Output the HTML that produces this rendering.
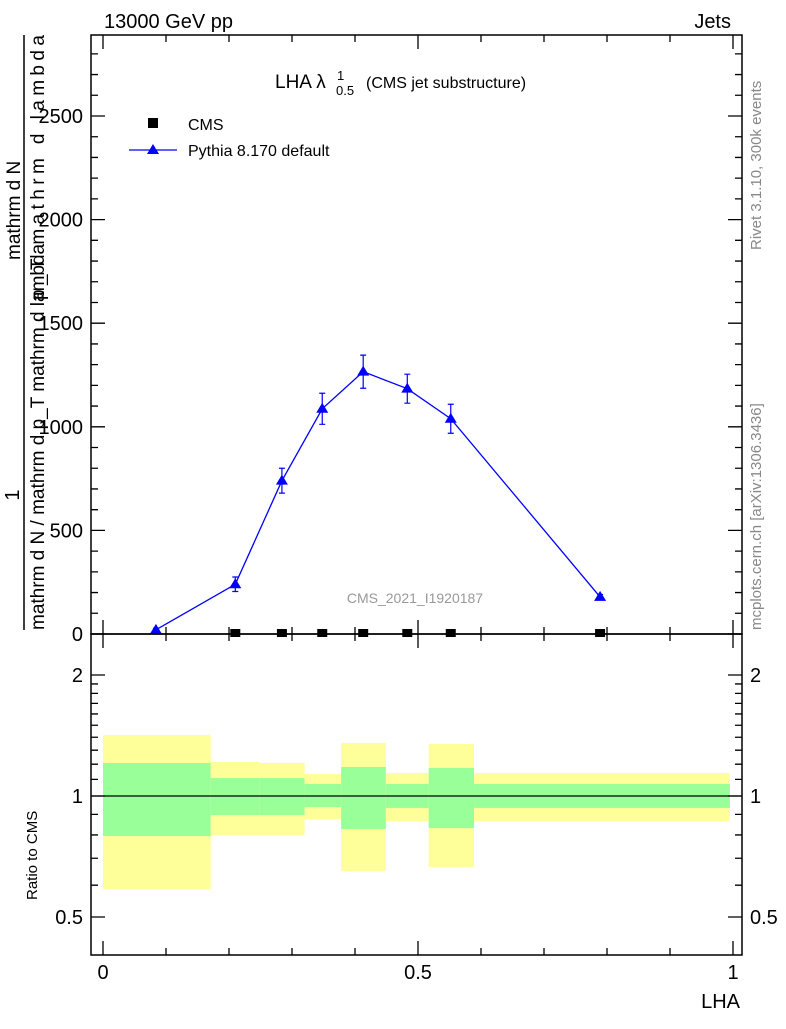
<!DOCTYPE html>
<html><head><meta charset="utf-8"><style>
body{margin:0;background:#fff}
svg{font-family:"Liberation Sans",sans-serif}
</style></head><body>
<svg id="c" width="786" height="1024" viewBox="0 0 786 1024" xmlns="http://www.w3.org/2000/svg">
<text x="104" y="28" font-size="20">13000 GeV pp</text>
<text x="731" y="28" font-size="20" text-anchor="end">Jets</text>
<text transform="translate(761,250) rotate(-90)" font-size="15" fill="#888">Rivet 3.1.10,  300k events</text>
<text transform="translate(761,630) rotate(-90)" font-size="15" fill="#888">mcplots.cern.ch [arXiv:1306.3436]</text>
<text x="415" y="603" font-size="14" fill="#999" text-anchor="middle">CMS_2021_I1920187</text>
<g>
<text x="275" y="88" font-size="19">LHA λ</text>
<text x="337" y="80" font-size="13">1</text>
<text x="336" y="95" font-size="13">0.5</text>
<text x="366" y="88" font-size="16">(CMS jet substructure)</text>
</g>
<g font-size="20">
<text transform="translate(19,495) rotate(-90)" text-anchor="middle">1</text>
<line x1="24" y1="35" x2="24" y2="630" stroke="#000" stroke-width="1.5"/>
<text transform="translate(44,630) rotate(-90)" font-size="19">mathrm d N / mathrm d p_T mathrm d lambda</text>
<text transform="translate(20,260) rotate(-90)" font-size="19">mathrm d N</text>
<text transform="translate(44,300) rotate(-90)" font-size="19" textLength="265">p_T mathrm d lambda</text>
</g>
<text transform="translate(37,900) rotate(-90)" font-size="15">Ratio to CMS</text>
<text x="740" y="1008" font-size="20" text-anchor="end">LHA</text>
<g id="legend">
<rect x="148" y="118" width="10" height="10" fill="#000"/>
<text x="188" y="130" font-size="16">CMS</text>
<line x1="129" y1="150" x2="177" y2="150" stroke="#00f" stroke-width="1.3"/>
<polygon points="153,144 159,154 147,154" fill="#00f"/>
<text x="188" y="156" font-size="16">Pythia 8.170 default</text>
</g>
<g id="bands"></g><g id="main"></g><g id="axes"></g>
</svg>
<script>
const pyX=[0.084,0.21,0.284,0.348,0.413,0.483,0.552,0.789];
const pyY=[20,240,740,1087,1266,1184,1039,179];
const pyErr=[8,35,60,75,80,70,70,12];
const cmsX=[0.21,0.284,0.348,0.413,0.483,0.552,0.789];
const cmsY=[0,0,0,0,0,0,0];
const binEdges=[0,0.171,0.249,0.32,0.378,0.449,0.517,0.589,0.995];
const yelHi=[1.418,1.215,1.208,1.134,1.355,1.141,1.347,1.141];
const yelLo=[0.587,0.80,0.80,0.876,0.651,0.866,0.666,0.866];
const grnHi=[1.208,1.108,1.108,1.071,1.181,1.071,1.174,1.071];
const grnLo=[0.795,0.897,0.897,0.939,0.828,0.934,0.832,0.934];
const yTicks=[0,500,1000,1500,2000,2500];
const rTicks=[0.5,1,2];
const xTicks=[0,0.5,1];
const NS="http://www.w3.org/2000/svg";
const X=v=>103+v*630, Y=v=>634-v*0.2072, R=v=>796-121*Math.log2(v);
function mk(p,t,a){const e=document.createElementNS(NS,t);for(const k in a)e.setAttribute(k,a[k]);document.getElementById(p).appendChild(e);return e;}
for(let i=0;i<yelHi.length;i++){
 let e=mk('bands','rect',{x:X(binEdges[i]),y:R(yelHi[i]),width:X(binEdges[i+1])-X(binEdges[i]),height:R(yelLo[i])-R(yelHi[i]),fill:'#ffff99'});
 
 
 e=mk('bands','rect',{x:X(binEdges[i]),y:R(grnHi[i]),width:X(binEdges[i+1])-X(binEdges[i]),height:R(grnLo[i])-R(grnHi[i]),fill:'#99ff99'});
 
 
}
let ln=mk('bands','line',{x1:91,x2:742,y1:R(1),y2:R(1),stroke:'#000','stroke-width':1.3});


let pl=mk('main','polyline',{points:pyX.map((x,i)=>X(x)+','+Y(pyY[i])).join(' '),fill:'none',stroke:'#00f','stroke-width':1.3});


pyX.forEach((x,i)=>{
 const cx=X(x),cy=Y(pyY[i]);
 let e=mk('main','path',{d:`M${cx} ${Y(pyY[i]+pyErr[i])}V${Y(pyY[i]-pyErr[i])}M${cx-3} ${Y(pyY[i]+pyErr[i])}h6M${cx-3} ${Y(pyY[i]-pyErr[i])}h6`,stroke:'#00f','stroke-width':1.2,fill:'none'});
 
 
 e=mk('main','polygon',{points:`${cx},${cy-6} ${cx+6},${cy+4} ${cx-6},${cy+4}`,fill:'#00f'});
 
 
});
cmsX.forEach((x,i)=>{
 const e=mk('main','rect',{x:X(x)-5,y:Y(cmsY[i])-5,width:10,height:8,fill:'#000'});
 
 
});
[[35,634],[634,955]].forEach(([a,b])=>{const e=mk('axes','rect',{x:91,y:a,width:651,height:b-a,fill:'none',stroke:'#000','stroke-width':1.5});
 
 });
let d='';
for(let v=0;v<=2800;v+=100){const y=Y(v);if(y<36)break;const L=v%500==0?14:7;d+=`M91 ${y}h${L}M742 ${y}h${-L}`;}
for(const v of [0.6,0.7,0.8,0.9,1.1,1.2,1.3,1.4,1.5,1.6,1.7,1.8,1.9]){const y=R(v);d+=`M91 ${y}h7M742 ${y}h-7`;}
for(const v of rTicks){const y=R(v);d+=`M91 ${y}h14M742 ${y}h-14`;}
for(let v=0;v<=1.001;v+=0.1){const x=X(v);const L=Math.abs(v*2-Math.round(v*2))<1e-6?14:7;
 d+=`M${x} 955v${-L}M${x} 634v${-L}M${x} 634v${L}M${x} 35v${L}`;}
let tk=mk('axes','path',{d:d,stroke:'#000','stroke-width':1.3,fill:'none'});


yTicks.forEach(v=>{const e=mk('axes','text',{x:83,y:Y(v)+7,'font-size':20,'text-anchor':'end'});e.textContent=v;
 
 });
rTicks.forEach(v=>{let e=mk('axes','text',{x:83,y:R(v)+7,'font-size':20,'text-anchor':'end'});e.textContent=v;
 
 
 e=mk('axes','text',{x:750,y:R(v)+7,'font-size':20});e.textContent=v;
 
 });
xTicks.forEach(v=>{const e=mk('axes','text',{x:X(v),y:979,'font-size':20,'text-anchor':'middle'});e.textContent=v;
 
 });
</script>
</body></html>
